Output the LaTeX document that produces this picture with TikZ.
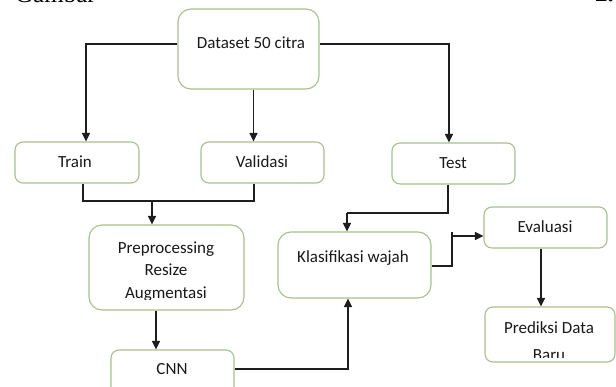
\documentclass[tikz,border=0pt]{standalone}
\usepackage{fontspec}
\setmainfont{Carlito}
\newfontfamily\serifhead{Liberation Serif}
\usetikzlibrary{arrows.meta}
\definecolor{boxgreen}{RGB}{168,192,138}
\definecolor{linegray}{RGB}{30,30,30}
\tikzset{
  box/.style={draw=boxgreen, line width=1.1pt, fill=white, rounded corners=8pt, inner sep=0pt},
  bigbox/.style={box, rounded corners=13pt},
  lbl/.style={inner sep=0pt, text=black!90, font=\fontsize{17}{22.5}\selectfont, align=center},
  conn/.style={draw=linegray, line width=1.2pt},
  arr/.style={conn, -{Triangle[length=8.5pt,width=8pt]}},
}
\begin{document}
\begin{tikzpicture}[x=1pt,y=-1pt]
\useasboundingbox (0,0) rectangle (616,387);
\fill[white] (0,0) rectangle (616,387);

% page fragments
\node[inner sep=0pt, anchor=base west, font=\serifhead\fontsize{25}{25}\selectfont] (hdl) at (15,3) {Gambar};
\node[inner sep=0pt, anchor=base west, font=\serifhead\bfseries\fontsize{25}{25}\selectfont] (hdr) at (595,2) {2.};

% boxes
\node[bigbox, minimum width=141pt, minimum height=80pt] (ds) at (248.5,49) {};
\node[box, minimum width=124pt, minimum height=41pt] (tr) at (77,162.5) {};
\node[box, minimum width=123pt, minimum height=41pt] (va) at (262.5,162.5) {};
\node[box, minimum width=123pt, minimum height=41pt] (te) at (453.5,163.5) {};
\node[bigbox, minimum width=155pt, minimum height=85pt] (pp) at (166.5,267.5) {};
\node[box, minimum width=123pt, minimum height=45pt] (cnn) at (172.5,372.5) {};
\node[bigbox, minimum width=153pt, minimum height=66pt] (kl) at (354.5,265) {};
\node[box, minimum width=123pt, minimum height=41pt] (ev) at (545.5,227.5) {};
\node[box, minimum width=130pt, minimum height=55pt] (pr) at (550,334.5) {};

% texts
\node[lbl] (dst) at (251,43) {Dataset 50 citra};
\node[lbl] (trt) at (75,162) {Train};
\node[lbl] (vat) at (262,162) {Validasi};
\node[lbl] (tet) at (453,163) {Test};
\begin{scope}
  \clip (90,226) rectangle (243,300);
  \node[lbl] (ppt) at (166,271.5) {Preprocessing\\Resize\\Augmentasi};
\end{scope}
\node[lbl] (cnnt) at (172,369) {CNN};
\node[lbl] (klt) at (353,258) {Klasifikasi wajah};
\node[lbl] (evt) at (545,227) {Evaluasi};
\node[lbl] (prt1) at (549,328) {Prediksi Data};
\begin{scope}
  \clip (486,340) rectangle (614,358);
  \node[lbl] (prt2) at (549,355.5) {Baru};
\end{scope}

% connectors
\draw[arr] ([yshift=5pt]ds.west) -| ([xshift=9pt]tr.north);
\draw[arr] ([xshift=5pt]ds.south) -- ([xshift=5pt]ds.south |- va.north);
\draw[arr] ([yshift=5pt]ds.east) -| ([xshift=-4.5pt]te.north);

\coordinate (mj) at (152,201);
\draw[conn] ([xshift=6pt]tr.south) |- (mj);
\draw[conn] ([xshift=-8.5pt]va.south) |- (mj);
\draw[arr] (mj) -- (mj |- pp.north);

\draw[arr] ([xshift=-10.5pt]pp.south) -- ([xshift=-10.5pt]pp.south |- cnn.north);

\draw[arr] ([yshift=3.5pt]cnn.east) -| ([xshift=-6.5pt]kl.south);

\coordinate (tk) at (347,213);
\draw[conn] ([xshift=-5.5pt]te.south) |- (tk);
\draw[arr] (tk) -- (tk |- kl.north);

\coordinate (kb) at (452,232);
\draw[conn] ([yshift=-1pt]kl.east) -| (kb);
\draw[arr] (kb |- 0,236) -- (ev.west |- 0,236);

\draw[arr] ([xshift=-4.5pt]ev.south) -- ([xshift=-4.5pt]ev.south |- pr.north);
\end{tikzpicture}
\end{document}
